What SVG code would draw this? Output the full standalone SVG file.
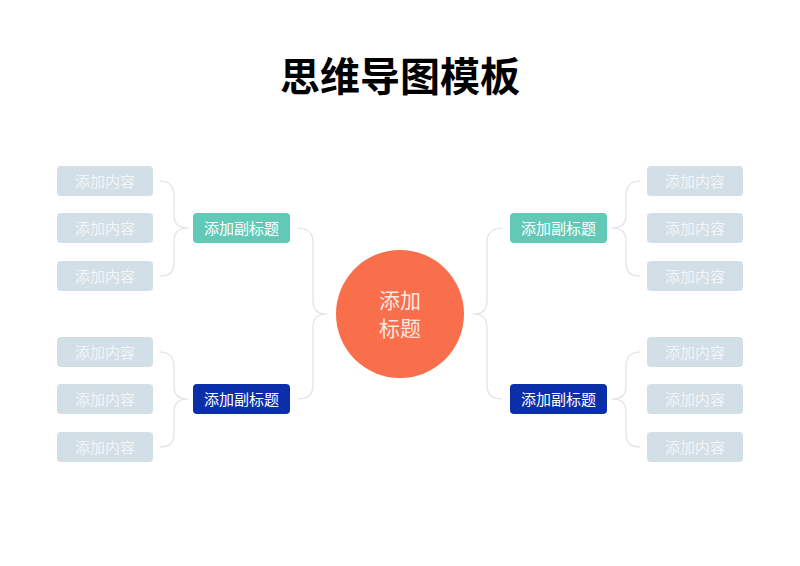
<svg xmlns="http://www.w3.org/2000/svg" width="800" height="566" viewBox="0 0 800 566">
<style>
text{font-family:"Noto Sans CJK SC","Noto Sans",sans-serif;text-anchor:middle}
.c rect{fill:#d3dfe6}
.c text{fill:#f1f5f7;font-size:15px}
.t rect{fill:#63c9b7}
.b rect{fill:#0b2fa8}
.s text{fill:#ffffff;font-size:15px}
.ln{fill:none;stroke:#dde3e8;stroke-width:1.2}
</style>
<rect width="800" height="566" fill="#ffffff"/>
<text x="400" y="91" font-size="40" font-weight="bold" fill="#000">思维导图模板</text>
<g id="connectors">
<path class="ln" d="M160,181 C170,181 174,186 174,196 L174,214 C174,224 178,228 188,228 C178,228 174,232 174,242 L174,262 C174,272 170,276 160,276"/>
<path class="ln" d="M160,352 C170,352 174,357 174,367 L174,385 C174,395 178,399 188,399 C178,399 174,403 174,413 L174,433 C174,443 170,447 160,447"/>
<path class="ln" d="M640,181 C630,181 626,186 626,196 L626,214 C626,224 622,228 612,228 C622,228 626,232 626,242 L626,262 C626,272 630,276 640,276"/>
<path class="ln" d="M640,352 C630,352 626,357 626,367 L626,385 C626,395 622,399 612,399 C622,399 626,403 626,413 L626,433 C626,443 630,447 640,447"/>
<path class="ln" d="M298,228 C308,228 313,233 313,243 L313,300 C313,310 317,314 327,314 C317,314 313,318 313,328 L313,385 C313,395 308,399 298,399"/>
<path class="ln" d="M502,228 C492,228 487,233 487,243 L487,300 C487,310 483,314 473,314 C483,314 487,318 487,328 L487,385 C487,395 492,399 502,399"/>
</g>
<g id="center">
<circle cx="400" cy="314" r="64" fill="#f96e4b"/>
<text x="400" y="308" font-size="21" fill="#fde9e3">添加</text>
<text x="400" y="336" font-size="21" fill="#fde9e3">标题</text>
</g>
<g id="sub-lt" class="s t"><rect x="193" y="213" width="97" height="30" rx="4"/><text x="241.5" y="233.5">添加副标题</text></g>
<g id="sub-lb" class="s b"><rect x="193" y="384" width="97" height="30" rx="4"/><text x="241.5" y="404.5">添加副标题</text></g>
<g id="sub-rt" class="s t"><rect x="510" y="213" width="97" height="30" rx="4"/><text x="558.5" y="233.5">添加副标题</text></g>
<g id="sub-rb" class="s b"><rect x="510" y="384" width="97" height="30" rx="4"/><text x="558.5" y="404.5">添加副标题</text></g>
<g id="c-l1" class="c"><rect x="57" y="166" width="96" height="30" rx="4"/><text x="105" y="186.5">添加内容</text></g>
<g id="c-l2" class="c"><rect x="57" y="213" width="96" height="30" rx="4"/><text x="105" y="233.5">添加内容</text></g>
<g id="c-l3" class="c"><rect x="57" y="261" width="96" height="30" rx="4"/><text x="105" y="281.5">添加内容</text></g>
<g id="c-l4" class="c"><rect x="57" y="337" width="96" height="30" rx="4"/><text x="105" y="357.5">添加内容</text></g>
<g id="c-l5" class="c"><rect x="57" y="384" width="96" height="30" rx="4"/><text x="105" y="404.5">添加内容</text></g>
<g id="c-l6" class="c"><rect x="57" y="432" width="96" height="30" rx="4"/><text x="105" y="452.5">添加内容</text></g>
<g id="c-r1" class="c"><rect x="647" y="166" width="96" height="30" rx="4"/><text x="695" y="186.5">添加内容</text></g>
<g id="c-r2" class="c"><rect x="647" y="213" width="96" height="30" rx="4"/><text x="695" y="233.5">添加内容</text></g>
<g id="c-r3" class="c"><rect x="647" y="261" width="96" height="30" rx="4"/><text x="695" y="281.5">添加内容</text></g>
<g id="c-r4" class="c"><rect x="647" y="337" width="96" height="30" rx="4"/><text x="695" y="357.5">添加内容</text></g>
<g id="c-r5" class="c"><rect x="647" y="384" width="96" height="30" rx="4"/><text x="695" y="404.5">添加内容</text></g>
<g id="c-r6" class="c"><rect x="647" y="432" width="96" height="30" rx="4"/><text x="695" y="452.5">添加内容</text></g>
</svg>
